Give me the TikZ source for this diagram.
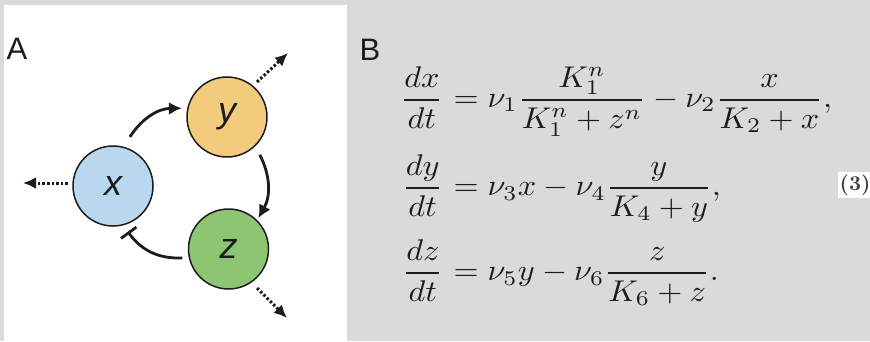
\documentclass[tikz,border=0pt]{standalone}
\usepackage{amsmath}
\usepackage{fontspec}
\newfontfamily\lsans{Liberation Sans}
\usetikzlibrary{arrows.meta,calc}
\definecolor{bggray}{HTML}{DADADA}
\definecolor{cblue}{HTML}{B9D7EF}
\definecolor{cyellow}{HTML}{F2CC7C}
\definecolor{cgreen}{HTML}{8DC573}
\definecolor{ink}{HTML}{1C1C1C}
\tikzset{
  species/.style={circle, draw=ink, line width=1.5pt, minimum size=80pt, inner sep=0pt,
    font=\lsans\itshape\fontsize{36}{40}\selectfont, text=ink},
  act/.style={line width=2.8pt, draw=ink, -{Latex[length=13pt,width=13pt]}},
  inh/.style={line width=2.8pt, draw=ink, -{Bar[width=19pt,line width=2.8pt]}},
  decay/.style={line width=3pt, draw=ink, dash pattern=on 2.6pt off 2pt,
    -{Latex[length=13pt,width=12pt]}},
  panel/.style={font=\lsans\fontsize{31}{36}\selectfont, text=ink, inner sep=0pt},
  eqn/.style={xscale=3.22, yscale=3.0, inner sep=0pt, text=ink}
}
\begin{document}
\begin{tikzpicture}[x=1pt,y=1pt]
\fill[bggray] (0,0) rectangle (870,341);
\fill[white] (4,0) rectangle (347,336);
\useasboundingbox (0,0) rectangle (870,341);

% panel A
\node[panel, anchor=base west] (labA) at (6.5,282) {A};
\node[species, fill=cblue] (x) at (113,155) {x};
\node[species, fill=cyellow] (y) at (227,224) {y};
\node[species, fill=cgreen] (z) at (228.5,92) {z};

\draw[act] ($(x.center)+(71:52)$) to[bend left=28] ($(y.center)+(169:46)$);
\draw[act] ($(y.center)+(-49:50)$) to[bend left=28] ($(z.center)+(46:43)$);
\draw[inh] ($(z.center)+(191:47)$) to[bend left=28] ($(x.center)+(-72:48)$);

\coordinate (xs) at ($(x.center)+(-45,3)$);
\coordinate (xe) at ($(x.center)+(-90,3)$);
\coordinate (ys) at ($(y.center)+(30,35)$);
\coordinate (ye) at ($(y.center)+(61,64)$);
\coordinate (zs) at ($(z.center)+(28.5,-39)$);
\coordinate (ze) at ($(z.center)+(58.5,-69)$);
\draw[decay] (xs) -- (xe);
\draw[decay] (ys) -- (ye);
\draw[decay] (zs) -- (ze);

% panel B
\node[panel, anchor=base west] (labB) at (359.5,281) {B};

\node[eqn, anchor=base east] (l1) at (444,233.5) {$\dfrac{dx}{dt}$};
\node[eqn, anchor=base west] (r1) at (444,233.5) {${}=\nu_1\dfrac{K_1^n}{K_1^n+z^n}-\nu_2\dfrac{x}{K_2+x},$};
\node[eqn, anchor=base east] (l2) at (444,145.5) {$\dfrac{dy}{dt}$};
\node[eqn, anchor=base west] (r2) at (444,145.5) {${}=\nu_3x-\nu_4\dfrac{y}{K_4+y},$};
\node[eqn, anchor=base east] (l3) at (444,60.5) {$\dfrac{dz}{dt}$};
\node[eqn, anchor=base west] (r3) at (444,60.5) {${}=\nu_5y-\nu_6\dfrac{z}{K_6+z}.$};

\node[fill=white, text=black!75, inner sep=1pt, anchor=east, scale=2.1,
  font=\bfseries] (num) at (873,156) {(3)};
\end{tikzpicture}
\end{document}
